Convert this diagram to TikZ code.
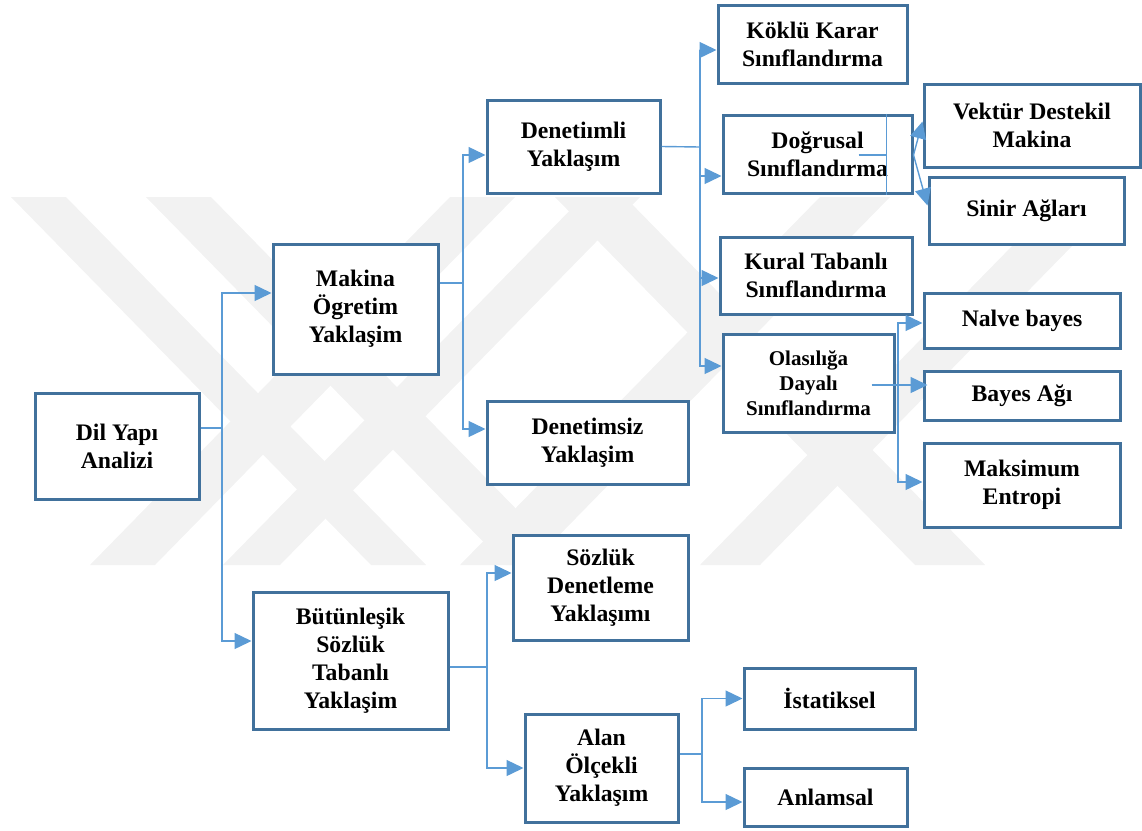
\documentclass[tikz,border=0pt]{standalone}
\usepackage{fontspec}
\setmainfont{Liberation Serif}
\usetikzlibrary{arrows.meta}
\definecolor{boxblue}{HTML}{41719C}
\definecolor{linkblue}{HTML}{5B9BD5}
\definecolor{wm}{HTML}{F2F2F2}
\tikzset{
  box/.style={draw=boxblue, line width=3pt, fill=white, align=center,
    font=\bfseries\fontsize{23.7}{28}\selectfont, inner sep=2pt},
  smallbox/.style={box, font=\bfseries\fontsize{21}{25}\selectfont},
  link/.style={draw=linkblue, line width=1.4pt},
  arr/.style={link, -{Triangle[length=17pt,width=16pt]}},
  band/.style={fill=wm, draw=none}
}
\begin{document}
\begin{tikzpicture}[x=1pt,y=-1pt]
\useasboundingbox (0,0) rectangle (1142,830);
% watermark
\foreach \a/\w in {11/55,146/65,555/70}
  \fill[band] (\a,197) -- ++(\w,0) -- ++(360,368) -- ++(-\w,0) -- cycle;
\foreach \b/\w in {90/65,223/57,460/70,700/60}
  \fill[band] (\b,565) -- ++(\w,0) -- ++(360,-368) -- ++(-\w,0) -- cycle;

% nodes
\node[box, minimum width=164pt, minimum height=106pt] (dil) at (117,446) {Dil Yapı\\Analizi};
\node[box, minimum width=165pt, minimum height=130pt] (mak) at (355.5,309) {Makina\\Ögretim\\Yaklaşim};
\node[box, minimum width=173pt, minimum height=93pt] (den) at (573.5,146.5) {Denetiımli\\Yaklaşım};
\node[box, minimum width=201pt, minimum height=83pt] (dsz) at (587.5,442.5) {Denetimsiz\\Yaklaşim};
\node[box, minimum width=189pt, minimum height=78pt] (kok) at (812.5,44) {Köklü Karar\\Sınıflandırma};
\node[box, minimum width=189pt, minimum height=78pt] (dog) at (817.5,154) {Doğrusal\\Sınıflandırma};
\node[box, minimum width=192pt, minimum height=77pt] (kur) at (816,275.5) {Kural Tabanlı\\Sınıflandırma};
\node[smallbox, minimum width=171pt, minimum height=98pt] (ola) at (808.5,383) {Olasılığa\\Dayalı\\Sınıflandırma};
\node[box, minimum width=216pt, minimum height=83pt] (vek) at (1032,125.5) {Vektür Destekil\\Makina};
\node[box, minimum width=195pt, minimum height=67pt] (sin) at (1026.5,210.5) {Sinir Ağları};
\node[box, minimum width=196pt, minimum height=55pt] (nal) at (1022,320.5) {Nalve bayes};
\node[box, minimum width=196pt, minimum height=49pt] (bay) at (1022,395.5) {Bayes Ağı};
\node[box, minimum width=196pt, minimum height=84pt] (ent) at (1022,485) {Maksimum\\Entropi};
\node[box, minimum width=195pt, minimum height=137pt] (but) at (350.5,660.5) {Bütünleşik\\Sözlük\\Tabanlı\\Yaklaşim};
\node[box, minimum width=175pt, minimum height=105pt] (soz) at (600.5,587.5) {Sözlük\\Denetleme\\Yaklaşımı};
\node[box, minimum width=153pt, minimum height=108pt] (alan) at (601.5,768) {Alan\\Ölçekli\\Yaklaşım};
\node[box, minimum width=171pt, minimum height=61pt] (ist) at (829.5,698.5) {İstatiksel};
\node[box, minimum width=163pt, minimum height=58pt] (anl) at (825.5,797) {Anlamsal};

% junctions
\coordinate (j1) at (222,428);
\coordinate (j2) at (463,283);
\coordinate (j3) at (700,147);
\coordinate (j5) at (898,385);
\coordinate (j6) at (487,667);
\coordinate (j7) at (702,754);

% connectors
\draw[link] ([yshift=18pt]dil.east) -- (j1);
\draw[arr] (j1) |- ([yshift=16pt]mak.west);
\draw[arr] (j1) |- ([yshift=19.5pt]but.west);

\draw[link] ([yshift=26pt]mak.east) -- (j2);
\draw[arr] (j2) |- ([yshift=-8.5pt]den.west);
\draw[arr] (j2) |- ([yshift=13.5pt]dsz.west);

\draw[link] (den.east) -- (j3);
\draw[arr] (j3) |- ([yshift=-6pt]kok.west);
\draw[arr] (j3) |- ([yshift=-22pt]dog.west);
\draw[arr] (j3) |- ([yshift=-2.5pt]kur.west);
\draw[arr] (j3) |- ([yshift=17pt]ola.west);

% lines inside Dogrusal box
\draw[link] ([xshift=-27pt]dog.north east) -- ([xshift=-27pt]dog.south east);
\draw[link] ([xshift=-55pt,yshift=-1pt]dog.east) -- ([xshift=-27pt,yshift=-1pt]dog.east);
\draw[arr] ([yshift=-1pt]dog.east) -- ([yshift=4pt]vek.west);
\draw[arr] ([yshift=-1pt]dog.east) -- ([yshift=5pt]sin.west);

\draw[arr] ([xshift=-24pt]ola.east |- j5) -- ([xshift=5pt]bay.west |- j5);
\draw[arr] (j5) |- ([yshift=-2.5pt]nal.west);
\draw[arr] (j5) |- ([yshift=3pt]ent.west);

\draw[link] ([yshift=-6.5pt]but.east) -- (j6);
\draw[arr] (j6) |- ([yshift=14.5pt]soz.west);
\draw[arr] (j6) |- (alan.west);

\draw[link] ([yshift=14pt]alan.east) -- (j7);
\draw[arr] (j7) |- (ist.west);
\draw[arr] (j7) |- ([yshift=-5pt]anl.west);
\end{tikzpicture}
\end{document}
